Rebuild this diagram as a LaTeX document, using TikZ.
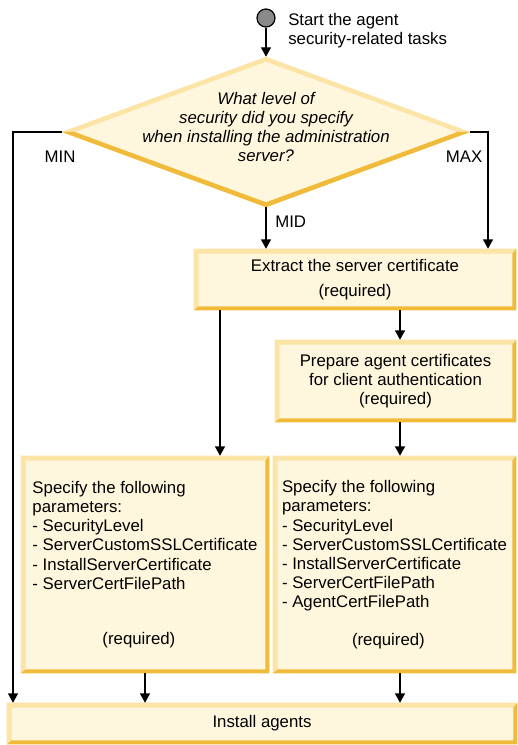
\documentclass[tikz,border=0pt]{standalone}
\usepackage{fontspec}
\setmainfont{Liberation Sans}
\usetikzlibrary{arrows.meta,shapes.geometric}

\definecolor{boxfill}{RGB}{255,247,221}
\definecolor{boxlite}{RGB}{252,228,166}
\definecolor{boxdark}{RGB}{240,186,58}
\definecolor{startgray}{RGB}{138,138,138}

% light band on top/left, dark band on bottom/right
\newcommand{\bevel}[1]{%
  \fill[boxlite] (#1.south west) -- (#1.north west) -- (#1.north east)
    -- ([shift={(-4,5)}]#1.north east) -- ([shift={(5,5)}]#1.north west)
    -- ([shift={(5,-4)}]#1.south west) -- cycle;
  \fill[boxdark] (#1.south west) -- (#1.south east) -- (#1.north east)
    -- ([shift={(-4,5)}]#1.north east) -- ([shift={(-4,-4)}]#1.south east)
    -- ([shift={(5,-4)}]#1.south west) -- cycle;}

\tikzset{
  box/.style={rectangle, fill=boxfill, inner sep=0pt},
  decision/.style={diamond, fill=boxfill, inner sep=0pt, minimum width=306pt, minimum height=112.5pt},
  arr/.style={-{Triangle[length=7pt,width=7.5pt]}, line width=0.9pt},
  lbl/.style={inner sep=0pt}
}

\begin{document}
\begin{tikzpicture}[x=0.75pt,y=0.75pt,yscale=-1,xscale=1,font=\fontsize{12.6}{14.4}\selectfont]
\useasboundingbox (0,0) rectangle (517,745);

%Shape: Circle
\node [circle, draw, line width=0.9pt, fill=startgray, minimum size=13.5pt, inner sep=0pt] (start) at (266,18) {};
% Text Node
\node [lbl, anchor=west, align=left] (startlbl) at (288,31) {Start the agent\\security-related tasks};

%Shape: Diamond
\node [decision] (q) at (266,132) {};
\fill[boxlite] (q.west) -- (q.north) -- (q.east) -- ([shift={(-13,0)}]q.east) -- ([shift={(0,5)}]q.north) -- ([shift={(13,0)}]q.west) -- cycle;
\fill[boxdark] (q.west) -- (q.south) -- (q.east) -- ([shift={(-13,0)}]q.east) -- ([shift={(0,-5)}]q.south) -- ([shift={(13,0)}]q.west) -- cycle;
% Text Node
\node [lbl, align=center, font=\fontsize{12.6}{14.4}\selectfont\itshape] (qtxt) at (266,127) {What level of\\security did you specify\\when installing the administration\\server?};

%Shape: Rectangle
\node [box, minimum width=241.5pt, minimum height=45.75pt, align=center] (ext) at (355,279.5) {Extract the server certificate\\[4.4pt](required)};
\bevel{ext}
%Shape: Rectangle
\node [box, minimum width=180.75pt, minimum height=61.5pt, align=center] (prep) at (395.5,381) {Prepare agent certificates\\for client authentication\\(required)};
\bevel{prep}
%Shape: Rectangle
\node [box, minimum width=186pt, minimum height=162.75pt, align=left] (parl) at (145,564.5) {Specify the following\\parameters:\\- SecurityLevel\\- ServerCustomSSLCertificate\\- InstallServerCertificate\\- ServerCertFilePath\\[27pt]\hspace*{52.5pt}(required)};
\bevel{parl}
%Shape: Rectangle
\node [box, minimum width=182.25pt, minimum height=162.75pt, align=left] (parr) at (394.5,564.5) {Specify the following\\parameters:\\- SecurityLevel\\- ServerCustomSSLCertificate\\- InstallServerCertificate\\- ServerCertFilePath\\- AgentCertFilePath\\[13.5pt]\hspace*{52.5pt}(required)};
\bevel{parr}
%Shape: Rectangle
\node [box, minimum width=382.5pt, minimum height=30.75pt] (inst) at (262,723.5) {Install agents};
\bevel{inst}

%Straight Lines
\coordinate (minc) at (13,132);
\coordinate (maxc) at (488,132);
\coordinate (colL) at (220,0);
\coordinate (colR) at (400,0);
\draw [arr] (start) -- (q.north);
\draw [arr] (q.west) -- (minc) -- (minc |- inst.north);
\draw [arr] (q.east) -- (maxc) -- (maxc |- ext.north);
\draw [arr] (q.south) -- (q.south |- ext.north);
\draw [arr] (colL |- ext.south) -- (colL |- parl.north);
\draw [arr] (colR |- ext.south) -- (colR |- prep.north);
\draw [arr] (colR |- prep.south) -- (colR |- parr.north);
\draw [arr] (parl.south) -- (parl.south |- inst.north);
\draw [arr] (colR |- parr.south) -- (colR |- inst.north);

% Text Node
\node [lbl] (lmin) at (60,157) {MIN};
% Text Node
\node [lbl] (lmax) at (464,157) {MAX};
% Text Node
\node [lbl, anchor=west] (lmid) at (275,222) {MID};

\end{tikzpicture}
\end{document}
